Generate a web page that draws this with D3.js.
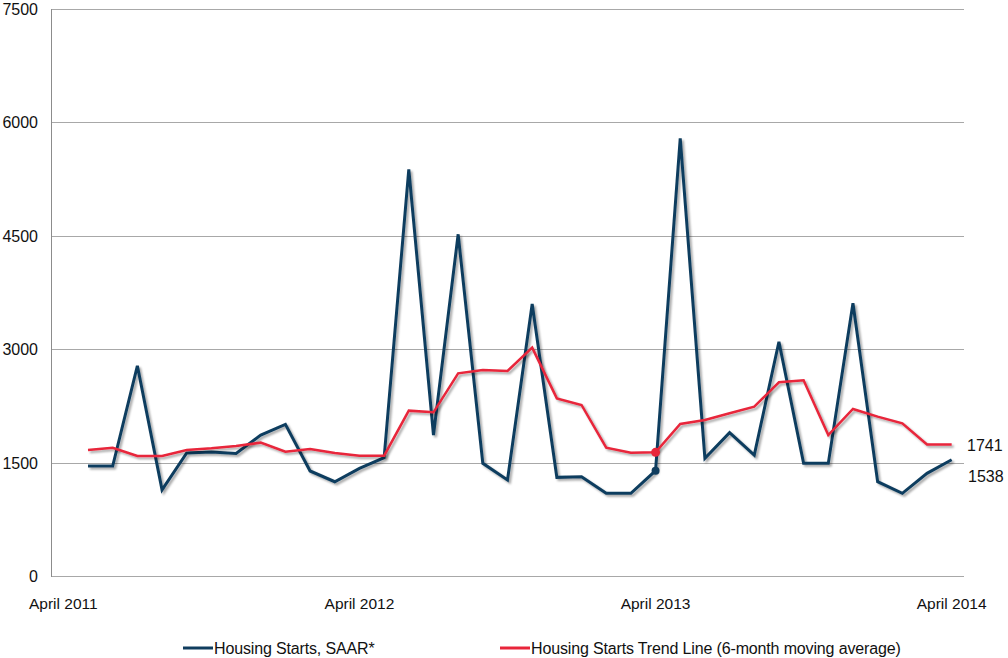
<!DOCTYPE html>
<html>
<head>
<meta charset="utf-8">
<script src="https://cdn.jsdelivr.net/npm/d3@7"></script>
<style>
  body { margin: 0; background: #fff; }
  svg text { font-family: "Liberation Sans", Arial, sans-serif; fill: #111; }
</style>
</head>
<body>
<div id="chart"></div>
<script>
// Months on the category axis (April 2011 .. April 2014)
const months = d3.timeMonths(new Date(2011, 3, 1), new Date(2014, 4, 1));
const tickMonths = ['April 2011', 'April 2012', 'April 2013', 'April 2014'];
const yTicks = [0, 1500, 3000, 4500, 6000, 7500];

// Housing starts, SAAR (first month has no value)
const starts = [null,
    1455, 1455, 2780, 1140, 1627, 1640, 1620, 1865, 2006, 1389, 1247, 1424,
    1565, 5380, 1865, 4520, 1490, 1270, 3598, 1305, 1314, 1094, 1094, 1393,
    5790, 1557, 1896, 1600, 3099, 1490, 1490, 3607, 1247, 1094, 1358, 1538];

// 6-month moving average
const trend = [null,
    1667, 1697, 1587, 1587, 1667, 1689, 1720, 1764, 1645, 1680, 1627, 1592,
    1592, 2187, 2165, 2681, 2725, 2712, 3020, 2350, 2262, 1697, 1631, 1636,
    2011, 2063, 2152, 2240, 2562, 2588, 1865, 2209, 2108, 2020, 1741, 1741];

const seriesNames = ['Housing Starts, SAAR*', 'Housing Starts Trend Line (6-month moving average)'];
const highlightIndex = 24; // April 2013

const width = 1008, height = 658;
const blue = '#103d5e', red = '#e8253a';

const svg = d3.select('#chart')
    .append('svg')
    .attr('width', width)
    .attr('height', height);

// Drop shadow like the original spreadsheet chart
const defs = svg.append('defs');
const shadow = defs.append('filter')
    .attr('id', 'shadow')
    .attr('x', '-5%').attr('y', '-5%')
    .attr('width', '110%').attr('height', '110%');
shadow.append('feDropShadow')
    .attr('dx', 2).attr('dy', 2)
    .attr('stdDeviation', 1.3)
    .attr('flood-color', '#000')
    .attr('flood-opacity', 0.35);

const x = d3.scaleBand()
    .domain(d3.range(months.length))
    .range([51, 964]);

const y = d3.scaleLinear()
    .domain([0, 7500])
    .range([576, 9]);

const fmt = d3.timeFormat('%B %Y');
const cx = i => x(i) + x.bandwidth() / 2;

// Gridlines
svg.append('g')
    .selectAll('line')
    .data(yTicks)
    .enter()
    .append('line')
    .attr('x1', 51)
    .attr('x2', 964)
    .attr('y1', d => Math.round(y(d)) + 0.5)
    .attr('y2', d => Math.round(y(d)) + 0.5)
    .attr('stroke', '#a8a8a8')
    .attr('stroke-width', 1);

// Y axis line
svg.append('line')
    .attr('x1', 51.5).attr('x2', 51.5)
    .attr('y1', y(7500)).attr('y2', y(0) + 1)
    .attr('stroke', '#8c8c8c');

// Y tick labels
svg.append('g')
    .selectAll('text')
    .data(yTicks)
    .enter()
    .append('text')
    .attr('x', 38)
    .attr('y', d => y(d) + 6)
    .attr('text-anchor', 'end')
    .style('font-size', '16px')
    .text(d => d);

// X tick labels
svg.append('g')
    .selectAll('text')
    .data(d3.range(months.length).filter(i => tickMonths.includes(fmt(months[i]))))
    .enter()
    .append('text')
    .attr('x', d => cx(d))
    .attr('y', 609)
    .attr('text-anchor', 'middle')
    .style('font-size', '15.5px')
    .text(d => fmt(months[d]));

// Lines
const line = d3.line()
    .defined(d => d != null)
    .x((d, i) => cx(i))
    .y(d => y(d));

svg.append('path')
    .datum(starts)
    .attr('d', line)
    .attr('fill', 'none')
    .attr('stroke', blue)
    .attr('stroke-width', 3)
    .attr('stroke-linejoin', 'miter')
    .attr('filter', 'url(#shadow)');

svg.append('path')
    .datum(trend)
    .attr('d', line)
    .attr('fill', 'none')
    .attr('stroke', red)
    .attr('stroke-width', 2.5)
    .attr('filter', 'url(#shadow)');

// Highlighted points at April 2013
svg.append('circle')
    .attr('cx', cx(highlightIndex))
    .attr('cy', y(starts[highlightIndex]))
    .attr('r', 4)
    .attr('fill', blue);

svg.append('circle')
    .attr('cx', cx(highlightIndex))
    .attr('cy', y(trend[highlightIndex]))
    .attr('r', 4.5)
    .attr('fill', red);

// End-of-line value labels
const last = months.length - 1;
svg.append('text')
    .attr('x', 967)
    .attr('y', y(trend[last]) + 7)
    .style('font-size', '16px')
    .text(trend[last]);

svg.append('text')
    .attr('x', 968)
    .attr('y', y(starts[last]) + 22)
    .style('font-size', '16px')
    .text(starts[last]);

// Legend
const legend = svg.append('g');
const legendItems = [
    { name: seriesNames[0], color: blue, x: 183 },
    { name: seriesNames[1], color: red, x: 500 }
];
legendItems.forEach(item => {
    legend.append('line')
        .attr('x1', item.x).attr('x2', item.x + 30)
        .attr('y1', 648).attr('y2', 648)
        .attr('stroke', item.color)
        .attr('stroke-width', 3);
    legend.append('text')
        .attr('x', item.x + 31)
        .attr('y', 654)
        .style('font-size', '16px')
        .style('letter-spacing', '-0.15px')
        .text(item.name);
});
</script>
</body>
</html>
